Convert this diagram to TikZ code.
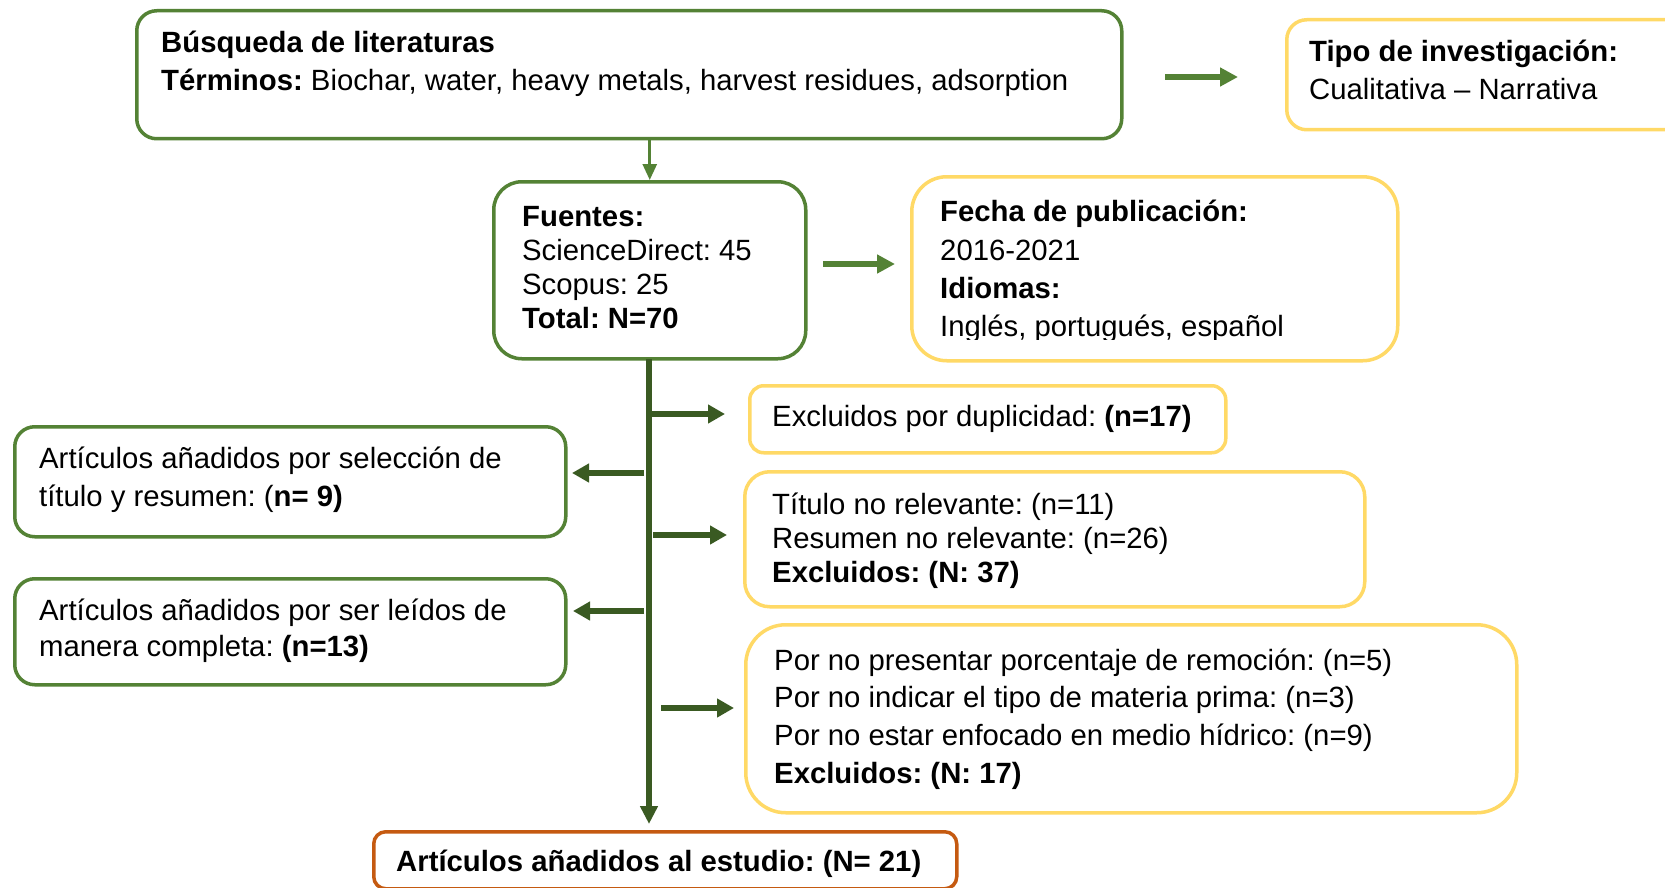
\documentclass[tikz,border=0pt]{standalone}
\usepackage{fontspec}
\setmainfont{Liberation Sans}
\frenchspacing
\usetikzlibrary{arrows.meta}
\definecolor{cgreen}{HTML}{548235}
\definecolor{dgreen}{HTML}{3A5A22}
\definecolor{cyellow}{HTML}{FFD966}
\definecolor{corange}{HTML}{C55A11}
\tikzset{
  boxbase/.style={rectangle, anchor=north west, inner sep=0pt, line width=3.5pt},
  gbox/.style={boxbase, draw=cgreen, rounded corners=#1},
  ybox/.style={boxbase, draw=cyellow, rounded corners=#1},
  obox/.style={boxbase, draw=corange, rounded corners=#1},
  txt/.style={anchor=base west, inner sep=0pt, align=left, text=black},
  garrow/.style={draw=cgreen, line width=6.5pt, -{Triangle[width=18pt,length=18pt]}},
  darrow/.style={draw=dgreen, line width=5.5pt, -{Triangle[width=18pt,length=17pt]}},
  trunk/.style={draw=dgreen, line width=5.5pt, -{Triangle[width=17pt,length=18pt]}},
  thinarrow/.style={draw=cgreen, line width=2.8pt, -{Triangle[width=14pt,length=16pt]}}
}
\begin{document}
\begin{tikzpicture}[x=1pt,y=-1pt]
\clip (0,0) rectangle (1665,888);
\fill[white] (0,0) rectangle (1665,888);

% boxes
\node[gbox=20, minimum width=985pt, minimum height=128pt] (busq) at (135,9) {};
\node[ybox=20, minimum width=420pt, minimum height=110pt] (tipo) at (1285,18) {};
\node[gbox=28, minimum width=312pt, minimum height=177pt] (fuentes) at (492,180) {};
\node[ybox=35, minimum width=486pt, minimum height=184pt] (fecha) at (910,175) {};
\node[ybox=14, minimum width=476pt, minimum height=67pt] (dup) at (748,384) {};
\node[gbox=20, minimum width=551pt, minimum height=110pt] (sel) at (13,425) {};
\node[ybox=25, minimum width=620pt, minimum height=135pt] (titulo) at (743,470) {};
\node[gbox=20, minimum width=551pt, minimum height=106pt] (leidos) at (13,577) {};
\node[ybox=40, minimum width=771pt, minimum height=188pt] (porno) at (744,623) {};
\node[obox=12, minimum width=583pt, minimum height=57pt] (estudio) at (372,830) {};

% texts (anchored at the baseline of the last line)
\node[txt, font=\fontsize{29.3}{38}\selectfont] (tbusq) at (161,90.7)
  {\textbf{Búsqueda de literaturas}\\\textbf{Términos:} Biochar, water, heavy metals, harvest residues, adsorption};
\node[txt, font=\fontsize{29.3}{37.6}\selectfont] (ttipo) at (1309,99.3)
  {\textbf{Tipo de investigación:}\\Cualitativa – Narrativa};
\node[txt, font=\fontsize{29.3}{34}\selectfont] (tfuentes) at (522,328.7)
  {\textbf{Fuentes:}\\ScienceDirect: 45\\Scopus: 25\\\textbf{Total: N=70}};
\begin{scope}
\clip (900,170) rectangle (1400,339.5);
\node[txt, font=\fontsize{29.3}{38.3}\selectfont] (tfecha) at (940,336.6)
  {\textbf{Fecha de publicación:}\\2016-2021\\\textbf{Idiomas:}\\Inglés, portugués, español};
\end{scope}
\node[txt, font=\fontsize{29.3}{34}\selectfont] (tdup) at (772,426)
  {Excluidos por duplicidad: \textbf{(n=17)}};
\node[txt, font=\fontsize{29.3}{37.7}\selectfont] (tsel) at (39,506)
  {Artículos añadidos por selección de\\título y resumen: (\textbf{n= 9)}};
\node[txt, font=\fontsize{29.3}{34}\selectfont] (ttitulo) at (772,582)
  {Título no relevante: (n=11)\\Resumen no relevante: (n=26)\\\textbf{Excluidos: (N: 37)}};
\node[txt, font=\fontsize{29.3}{36.7}\selectfont] (tleidos) at (39,656.7)
  {Artículos añadidos por ser leídos de\\manera completa: \textbf{(n=13)}};
\node[txt, font=\fontsize{29.3}{37.8}\selectfont] (tporno) at (774,783.4)
  {Por no presentar porcentaje de remoción: (n=5)\\Por no indicar el tipo de materia prima: (n=3)\\Por no estar enfocado en medio hídrico: (n=9)\\\textbf{Excluidos: (N: 17)}};
\node[txt, font=\fontsize{29.3}{34}\selectfont] (testudio) at (396,871.7)
  {\textbf{Artículos añadidos al estudio: (N= 21)}};

% arrow coordinates
\coordinate (a1s) at (1165,77);
\coordinate (a1e) at (1238,77);
\coordinate (a2s) at (823,264);
\coordinate (a2e) at (895,264);
\coordinate (r1s) at (652,414);
\coordinate (r1e) at (725,414);
\coordinate (l1s) at (644,473);
\coordinate (l1e) at (572,473);
\coordinate (r2s) at (653,535);
\coordinate (r2e) at (727,535);
\coordinate (l2s) at (644,611);
\coordinate (l2e) at (573,611);
\coordinate (r3s) at (661,708);
\coordinate (r3e) at (734,708);
\coordinate (trs) at (649,359);
\coordinate (tre) at (649,824);

% connectors
\draw[thinarrow] (fuentes.north |- busq.south) -- (fuentes.north);
\draw[garrow] (a1s) -- (a1e);
\draw[garrow] (a2s) -- (a2e);
\draw[trunk] (trs) -- (tre);
\draw[darrow] (r1s) -- (r1e);
\draw[darrow] (l1s) -- (l1e);
\draw[darrow] (r2s) -- (r2e);
\draw[darrow] (l2s) -- (l2e);
\draw[darrow] (r3s) -- (r3e);
\end{tikzpicture}
\end{document}
